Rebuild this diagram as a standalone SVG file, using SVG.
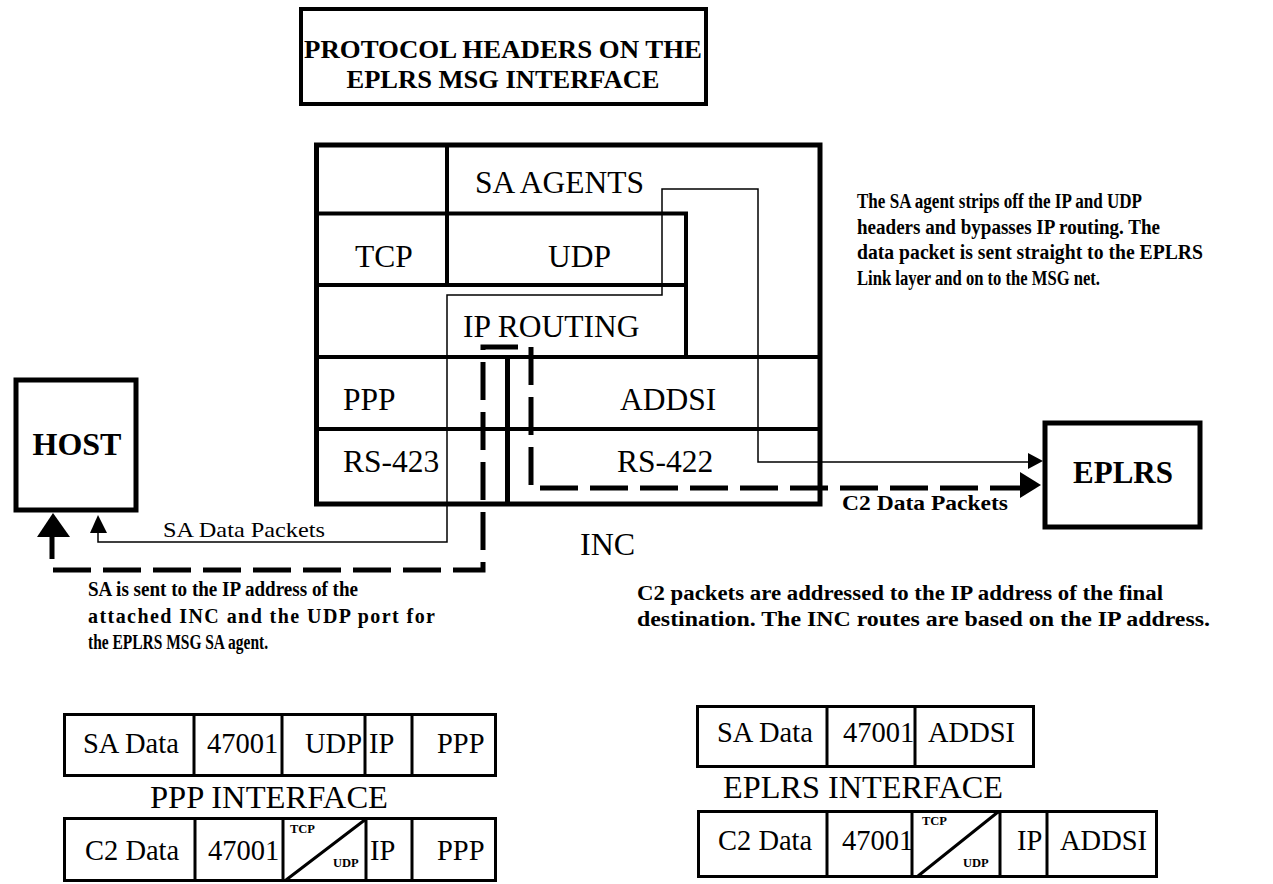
<svg xmlns="http://www.w3.org/2000/svg" width="1273" height="884" viewBox="0 0 1273 884">
<style>
.bx{fill:none;stroke:#000;}
.t{font-family:"Liberation Serif","Times New Roman",serif;fill:#000;}
.b{font-weight:bold;}
.lbl{font-size:31.5px;}
.tb{font-size:28.5px;}
.note{font-size:20px;font-weight:bold;}
.sm{font-size:12.5px;font-weight:bold;}
.thin{fill:none;stroke:#000;stroke-width:1.5;}
.dash{fill:none;stroke:#000;stroke-width:5;stroke-dasharray:38 12;}
</style>
<rect width="1273" height="884" fill="#fff"/>

<g id="title">
<rect class="bx" x="301" y="9" width="405" height="95" stroke-width="4"/>
<text class="t b" x="503" y="58" font-size="26" text-anchor="middle" textLength="398" lengthAdjust="spacingAndGlyphs">PROTOCOL HEADERS ON THE</text>
<text class="t b" x="503" y="87.5" font-size="26" text-anchor="middle" textLength="313" lengthAdjust="spacingAndGlyphs">EPLRS MSG INTERFACE</text>
</g>

<g id="inc">
<rect class="bx" x="316.5" y="145" width="503.5" height="359" stroke-width="5"/>
<path class="bx" stroke-width="4" d="M316.5,213.5 H688 M447,145 V285 M316.5,285 H688 M686,211.5 V357 M316.5,357 H820 M316.5,429 H820"/>
<path class="bx" stroke-width="5" d="M507.5,357 V504"/>
<text class="t lbl" x="475" y="193">SA AGENTS</text>
<text class="t lbl" x="355" y="267">TCP</text>
<text class="t lbl" x="548" y="267">UDP</text>
<text class="t lbl" x="463" y="337">IP ROUTING</text>
<text class="t lbl" x="343" y="410">PPP</text>
<text class="t lbl" x="620" y="410">ADDSI</text>
<text class="t lbl" x="343" y="472">RS-423</text>
<text class="t lbl" x="617" y="472">RS-422</text>
<text class="t" x="580" y="555" font-size="32">INC</text>
</g>

<g id="host">
<rect class="bx" x="16" y="380" width="120" height="130" stroke-width="5"/>
<text class="t b" x="77" y="455" font-size="32" text-anchor="middle">HOST</text>
</g>

<g id="eplrs">
<rect class="bx" x="1045" y="423" width="155" height="104" stroke-width="5"/>
<text class="t b" x="1123" y="483" font-size="31" text-anchor="middle">EPLRS</text>
</g>

<g id="connectors">
<path class="thin" d="M98,530 V542 H447 V295 H662 V189 H758 V462 H1030"/>
<polygon points="98,515 90,533 107,533" fill="#000"/>
<polygon points="1043,461 1028,453 1028,469" fill="#000"/>
<path class="dash" d="M518,347 H483 V570 H52 V535"/>
<path class="dash" d="M531,347 V488 H1022"/>
<polygon points="53,513 37,537 70,537" fill="#000"/>
<polygon points="1041,485 1020,472 1020,498" fill="#000"/>
<text class="t" x="163" y="537" font-size="22" textLength="162" lengthAdjust="spacingAndGlyphs">SA Data Packets</text>
<text class="t b" x="842" y="510" font-size="21" textLength="166" lengthAdjust="spacingAndGlyphs">C2 Data Packets</text>
</g>

<g id="notes">
<text class="t note" x="857" y="208" textLength="285" lengthAdjust="spacingAndGlyphs">The SA agent strips off the IP and UDP</text>
<text class="t note" x="857" y="234" textLength="303" lengthAdjust="spacingAndGlyphs">headers and bypasses IP routing.   The</text>
<text class="t note" x="857" y="259" textLength="346" lengthAdjust="spacingAndGlyphs">data packet is sent straight to the EPLRS</text>
<text class="t note" x="857" y="285" textLength="243" lengthAdjust="spacingAndGlyphs">Link layer and on to the MSG net.</text>
<text class="t note" x="88" y="596" textLength="270" lengthAdjust="spacingAndGlyphs">SA is sent to the IP address of the</text>
<text class="t note" x="88" y="623" textLength="347" lengthAdjust="spacing">attached INC and the UDP port for</text>
<text class="t note" x="88" y="649" textLength="180" lengthAdjust="spacingAndGlyphs">the EPLRS MSG SA agent.</text>
<text class="t note" x="637" y="600" textLength="526" lengthAdjust="spacingAndGlyphs">C2 packets are addressed to the IP address of the final</text>
<text class="t note" x="637" y="626" textLength="573" lengthAdjust="spacingAndGlyphs">destination.   The INC routes are based on the IP address.</text>
</g>

<g id="ppp-sa-table">
<rect class="bx" x="64.5" y="714.5" width="431" height="61" stroke-width="3"/>
<path class="bx" stroke-width="3" d="M194,714.5 V775.5 M282,714.5 V775.5 M365,714.5 V775.5 M412,714.5 V775.5"/>
<text class="t tb" x="83" y="753">SA Data</text>
<text class="t tb" x="207" y="753">47001</text>
<text class="t tb" x="305" y="753">UDP</text>
<text class="t tb" x="369" y="753">IP</text>
<text class="t tb" x="437" y="753">PPP</text>
</g>
<text class="t" x="150" y="808" font-size="32" textLength="238" lengthAdjust="spacingAndGlyphs">PPP INTERFACE</text>
<g id="ppp-c2-table">
<rect class="bx" x="64.5" y="818.5" width="431" height="62" stroke-width="3"/>
<path class="bx" stroke-width="3" d="M195,818.5 V880.5 M283,818.5 V880.5 M366,818.5 V880.5 M412,818.5 V880.5 M286,880 L366,819"/>
<text class="t tb" x="85" y="860">C2 Data</text>
<text class="t tb" x="208" y="860">47001</text>
<text class="t sm" x="290" y="833">TCP</text>
<text class="t sm" x="333" y="867">UDP</text>
<text class="t tb" x="370" y="860">IP</text>
<text class="t tb" x="437" y="860">PPP</text>
</g>

<g id="eplrs-sa-table">
<rect class="bx" x="697.5" y="706.5" width="336" height="60" stroke-width="3"/>
<path class="bx" stroke-width="3" d="M827,706.5 V766.5 M915,706.5 V766.5"/>
<text class="t tb" x="717" y="742">SA Data</text>
<text class="t tb" x="843" y="742">47001</text>
<text class="t tb" x="928" y="742">ADDSI</text>
</g>
<text class="t" x="723" y="798" font-size="32" textLength="280" lengthAdjust="spacingAndGlyphs">EPLRS INTERFACE</text>
<g id="eplrs-c2-table">
<rect class="bx" x="698.5" y="811.5" width="458" height="65" stroke-width="3"/>
<path class="bx" stroke-width="3" d="M827,811.5 V876.5 M912,811.5 V876.5 M1000,811.5 V876.5 M1047,811.5 V876.5 M918,876 L998,812"/>
<text class="t tb" x="718" y="850">C2 Data</text>
<text class="t tb" x="842" y="850">47001</text>
<text class="t sm" x="922" y="825">TCP</text>
<text class="t sm" x="963" y="867">UDP</text>
<text class="t tb" x="1017" y="850">IP</text>
<text class="t tb" x="1060" y="850">ADDSI</text>
</g>
</svg>
